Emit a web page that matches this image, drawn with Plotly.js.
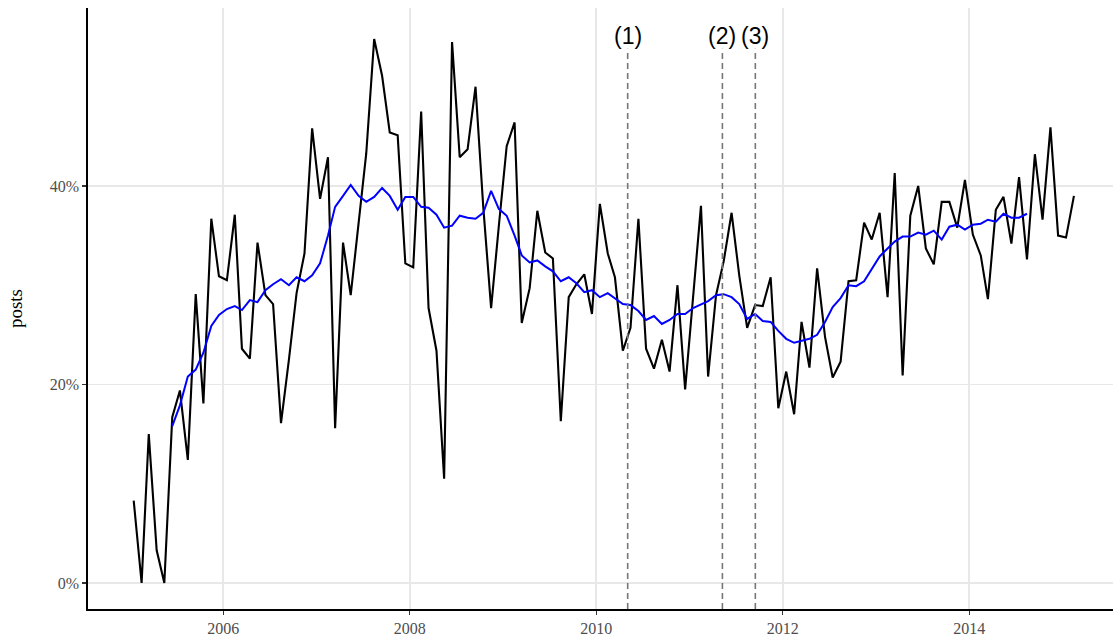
<!DOCTYPE html>
<html>
<head>
<meta charset="utf-8">
<script src="https://cdn.plot.ly/plotly-3.0.1.min.js"></script>
<style>html,body{margin:0;padding:0;background:#fff;}#chart{width:1113px;height:641px;}</style>
</head>
<body>
<div id="chart"></div>
<script>
// Monthly observations (mid-month), Jan 2005 - Feb 2015
const months = [
  "2005-01-15","2005-02-15","2005-03-15","2005-04-15","2005-05-15","2005-06-15","2005-07-15","2005-08-15","2005-09-15","2005-10-15","2005-11-15","2005-12-15",
  "2006-01-15","2006-02-15","2006-03-15","2006-04-15","2006-05-15","2006-06-15","2006-07-15","2006-08-15","2006-09-15","2006-10-15","2006-11-15","2006-12-15",
  "2007-01-15","2007-02-15","2007-03-15","2007-04-15","2007-05-15","2007-06-15","2007-07-15","2007-08-15","2007-09-15","2007-10-15","2007-11-15","2007-12-15",
  "2008-01-15","2008-02-15","2008-03-15","2008-04-15","2008-05-15","2008-06-15","2008-07-15","2008-08-15","2008-09-15","2008-10-15","2008-11-15","2008-12-15",
  "2009-01-15","2009-02-15","2009-03-15","2009-04-15","2009-05-15","2009-06-15","2009-07-15","2009-08-15","2009-09-15","2009-10-15","2009-11-15","2009-12-15",
  "2010-01-15","2010-02-15","2010-03-15","2010-04-15","2010-05-15","2010-06-15","2010-07-15","2010-08-15","2010-09-15","2010-10-15","2010-11-15","2010-12-15",
  "2011-01-15","2011-02-15","2011-03-15","2011-04-15","2011-05-15","2011-06-15","2011-07-15","2011-08-15","2011-09-15","2011-10-15","2011-11-15","2011-12-15",
  "2012-01-15","2012-02-15","2012-03-15","2012-04-15","2012-05-15","2012-06-15","2012-07-15","2012-08-15","2012-09-15","2012-10-15","2012-11-15","2012-12-15",
  "2013-01-15","2013-02-15","2013-03-15","2013-04-15","2013-05-15","2013-06-15","2013-07-15","2013-08-15","2013-09-15","2013-10-15","2013-11-15","2013-12-15",
  "2014-01-15","2014-02-15","2014-03-15","2014-04-15","2014-05-15","2014-06-15","2014-07-15","2014-08-15","2014-09-15","2014-10-15","2014-11-15","2014-12-15",
  "2015-01-15","2015-02-15"
];

// Monthly share of posts (%)
const posts = [
  8.3, 0, 15.0, 3.3, 0, 16.7, 19.4, 12.4, 29.1, 18.1, 36.7, 30.9,
  30.5, 37.1, 23.6, 22.6, 34.3, 29.0, 28.1, 16.1, 22.5, 29.2, 33.2, 45.8,
  38.7, 42.9, 15.6, 34.3, 29.0, 36.0, 43.3, 54.8, 51.1, 45.4, 45.1, 32.2,
  31.8, 47.5, 27.7, 23.4, 10.5, 54.5, 42.9, 43.7, 50.0, 38.0, 27.7, 35.9,
  44.0, 46.4, 26.2, 29.7, 37.5, 33.3, 32.7, 16.3, 28.8, 30.1, 31.1, 27.1,
  38.2, 33.2, 30.8, 23.4, 25.7, 36.7, 23.6, 21.6, 24.5, 21.3, 30.0, 19.5,
  28.5, 38.0, 20.8, 29.0, 32.4, 37.3, 31.0, 25.7, 28.0, 27.9, 30.8, 17.6,
  21.3, 17.0, 26.3, 21.7, 31.7, 24.8, 20.7, 22.3, 30.4, 30.5, 36.3, 34.6,
  37.3, 28.8, 41.3, 20.9, 37.0, 40.0, 33.7, 32.1, 38.4, 38.4, 35.8, 40.6,
  35.1, 33.0, 28.6, 37.6, 38.9, 34.2, 40.9, 32.6, 43.2, 36.6, 45.9, 35.0,
  34.8, 39.0
];

// Smoothed (rolling) series, Jun 2005 - Aug 2014 (%)
const smoothStart = 5;
const smoothed = [
  15.8, 17.9, 20.8, 21.5, 23.2, 25.9, 27.0,
  27.6, 27.9, 27.5, 28.5, 28.3, 29.5, 30.1, 30.6, 30.0, 30.8, 30.4, 31.0,
  32.2, 35.0, 37.9, 39.0, 40.1, 39.0, 38.4, 38.9, 39.8, 39.0, 37.6, 38.9,
  38.9, 37.9, 37.8, 37.1, 35.8, 36.0, 37.0, 36.8, 36.7, 37.3, 39.5, 37.7,
  37.0, 35.0, 33.0, 32.3, 32.5, 31.9, 31.4, 30.4, 30.8, 30.2, 29.3, 29.5,
  28.8, 29.2, 28.7, 28.1, 28.0, 27.4, 26.5, 26.9, 26.1, 26.5, 27.1, 27.1,
  27.7, 28.1, 28.4, 29.0, 29.1, 28.8, 28.1, 26.6, 27.1, 26.4, 26.3, 25.4,
  24.6, 24.2, 24.4, 24.6, 25.0, 26.3, 27.8, 28.7, 30.0, 29.9, 30.4, 31.7,
  32.9, 33.7, 34.4, 34.9, 34.9, 35.3, 35.1, 35.5, 34.6, 35.9, 36.1, 35.6,
  36.1, 36.2, 36.6, 36.4, 37.2, 36.8, 36.8, 37.2
];

// Event markers
const eventDates = ["2010-05-04", "2011-05-10", "2011-09-16"];
const eventLabels = ["(1)", "(2)", "(3)"];

// Axis ticks
const xTickVals = ["2006-01-01", "2008-01-01", "2010-01-01", "2012-01-01", "2014-01-01"];
const xTickText = ["2006", "2008", "2010", "2012", "2014"];
const yTickVals = [0, 20, 40];
const yTickText = ["0%", "20%", "40%"];

const smoothMonths = months.slice(smoothStart, smoothStart + smoothed.length);

const serif = "'Liberation Serif', 'DejaVu Serif', serif";

const traces = [
  {
    x: months, y: posts, type: "scatter", mode: "lines",
    line: {color: "#000000", width: 2.1}, hoverinfo: "x+y", showlegend: false
  },
  {
    x: smoothMonths, y: smoothed, type: "scatter", mode: "lines",
    line: {color: "#0000ff", width: 2}, hoverinfo: "x+y", showlegend: false
  }
];

const shapes = eventDates.map(d => ({
  type: "line", xref: "x", yref: "paper", x0: d, x1: d, y0: 0, y1: 0.932,
  line: {color: "#777777", width: 1.6, dash: "6px,4px"}, layer: "above"
}));

const annotations = eventDates.map((d, i) => ({
  x: d, y: 55.1, xref: "x", yref: "y", text: eventLabels[i], showarrow: false,
  xanchor: "center", yanchor: "middle",
  font: {family: "'Liberation Sans', Arial, sans-serif", size: 23, color: "#000000"}
}));

const layout = {
  width: 1113, height: 641,
  margin: {l: 88, r: 0, t: 8, b: 32, pad: 0},
  paper_bgcolor: "#ffffff", plot_bgcolor: "#ffffff",
  showlegend: false,
  xaxis: {
    type: "date",
    range: ["2004-07-20", "2015-07-18"],
    tickmode: "array", tickvals: xTickVals, ticktext: xTickText,
    showgrid: true, gridcolor: "#e8e8e8", gridwidth: 1.8,
    showline: true, linecolor: "#000000", linewidth: 1.6,
    ticks: "outside", ticklen: 4, tickwidth: 1.2, tickcolor: "#333333",
    tickfont: {family: serif, size: 16, color: "#4d4d4d"},
    zeroline: false, fixedrange: true
  },
  yaxis: {
    range: [-2.62, 57.93],
    tickmode: "array", tickvals: yTickVals, ticktext: yTickText,
    showgrid: true, gridcolor: "#e8e8e8", gridwidth: 1.8,
    showline: true, linecolor: "#000000", linewidth: 1.6,
    ticks: "outside", ticklen: 4, tickwidth: 1.2, tickcolor: "#333333",
    tickfont: {family: serif, size: 16, color: "#4d4d4d"},
    zeroline: false, fixedrange: true,
    title: {text: "posts", font: {family: serif, size: 19, color: "#000000"}, standoff: 22}
  },
  shapes: shapes,
  annotations: annotations
};

Plotly.newPlot("chart", traces, layout, {displayModeBar: false, staticPlot: true});
</script>
</body>
</html>
